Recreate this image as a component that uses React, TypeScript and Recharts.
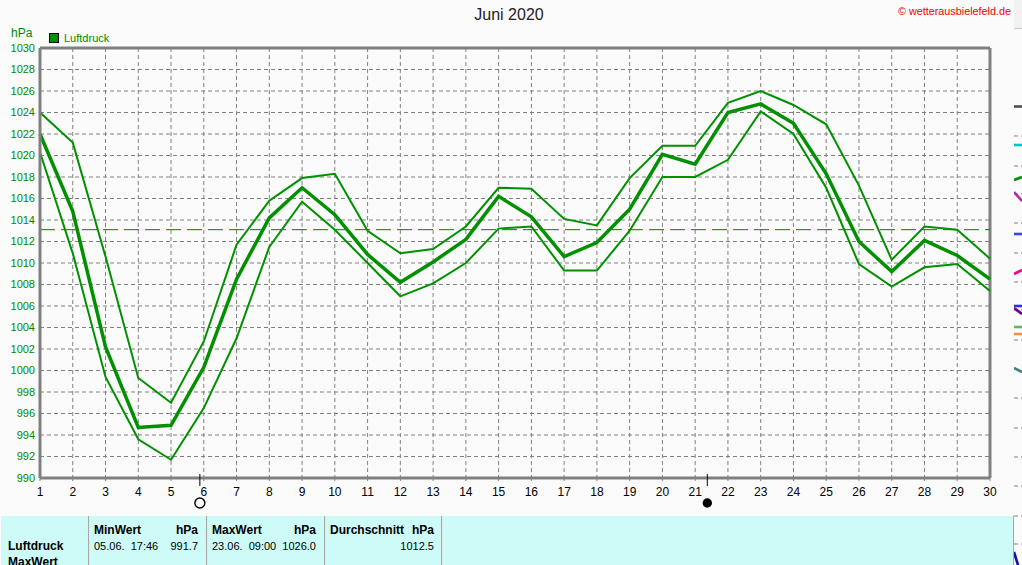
import React from "react";
import { ComposedChart, LineChart, Line, XAxis, YAxis, CartesianGrid, ReferenceLine, ReferenceDot, Legend } from "recharts";

const days = [1,2,3,4,5,6,7,8,9,10,11,12,13,14,15,16,17,18,19,20,21,22,23,24,25,26,27,28,29,30];
const maxValues = [1024,1021.2,1010.6,999.3,997,1002.7,1011.7,1015.8,1017.9,1018.3,1013,1010.9,1011.3,1013.4,1017,1016.9,1014.1,1013.5,1017.9,1020.9,1020.9,1024.9,1026,1024.7,1022.9,1017.2,1010.3,1013.4,1013.1,1010.4];
const meanValues = [1022,1014.8,1002.2,994.7,994.9,1000.3,1008.5,1014.2,1017,1014.5,1010.8,1008.2,1010.1,1012.2,1016.2,1014.3,1010.6,1011.9,1015,1020.1,1019.2,1024,1024.8,1023,1018.3,1012,1009.2,1012.1,1010.7,1008.5];
const minValues = [1020.3,1010.9,999.4,993.6,991.7,996.5,1003,1011.5,1015.7,1013.1,1010,1006.9,1008.1,1010,1013.2,1013.4,1009.3,1009.3,1013,1018,1018,1019.6,1024.1,1022,1017,1009.9,1007.8,1009.6,1009.9,1007.4];
const yTicks = [990,992,994,996,998,1000,1002,1004,1006,1008,1010,1012,1014,1016,1018,1020,1022,1024,1026,1028,1030];
const averageValue = 1013.1;
const fullMoonDay = 5.88;
const newMoonDay = 21.37;

const rows = days.map((d, i) => ({ day: d, max: maxValues[i], mean: meanValues[i], min: minValues[i] }));

// Neighbouring chart that the window crops at the right edge
const cropX = [0, 1];
const cropGrid = [136,166,194,223,253,282,310,340,398,428,457,486,516,544];
const cropSeries = [
  { color: "#505050", values: [106.5,106.5] },
  { color: "#00C8C8", values: [145,145] },
  { color: "#009000", values: [180,177] },
  { color: "#B030A0", values: [192,201] },
  { color: "#4040F0", values: [234,234] },
  { color: "#F00090", values: [274,270] },
  { color: "#3030E0", values: [306,306] },
  { color: "#700090", values: [308,314] },
  { color: "#60B860", values: [327,327] },
  { color: "#F09040", values: [334,334] },
  { color: "#408080", values: [368,372] },
  { color: "#1010B0", values: [552,578] },
];
const cropRows = cropX.map((x, i) => {
  const r: any = { x };
  cropSeries.forEach((s, k) => { r["s" + k] = s.values[i]; });
  return r;
});

const tableHeads = [
  { x: 88, label: "MinWert", unit: "hPa", when: "05.06.  17:46", value: "991.7" },
  { x: 206, label: "MaxWert", unit: "hPa", when: "23.06.  09:00", value: "1026.0" },
  { x: 324, label: "Durchschnitt", unit: "hPa", when: "", value: "1012.5" },
];
const rowNames = ["Luftdruck", "MaxWert"];

const FONT = '"Liberation Sans", Arial, sans-serif';
const GREEN = "#009000";
const TEXT_GREEN = "#008A00";
const GRAY = "#808080";

const abs = (left: number, top: number, extra: React.CSSProperties = {}): React.CSSProperties => ({
  position: "absolute", left, top, whiteSpace: "pre", lineHeight: "14px", ...extra,
});

const moon = (filled: boolean) => (props: any) => {
  const { cx, cy } = props;
  return (
    <g>
      <line x1={cx} x2={cx} y1={cy - 4} y2={cy + 8} stroke="#000" strokeWidth={1} />
      <circle cx={cx} cy={cy + 25} r={filled ? 4 : 5} fill={filled ? "#000" : "none"} stroke="#000" strokeWidth={1.4} />
    </g>
  );
};

const LegendBox = () => (
  <div style={{ position: "absolute", left: 49, top: 32, display: "flex", alignItems: "center", fontFamily: FONT, fontSize: 11, color: TEXT_GREEN }}>
    <span style={{ width: 8, height: 8, background: GREEN, border: "1px solid #000", marginRight: 5 }} />
    Luftdruck
  </div>
);

export default function App() {
  return (
    <div style={{ position: "absolute", left: 0, top: 0, width: 1022, height: 565, overflow: "hidden", background: "#FBFBFB", fontFamily: FONT }}>
      <div style={{ position: "absolute", left: 1014, top: 0, width: 8, height: 28, background: "#F2F2F2", borderBottom: "1px solid #C8C8C8" }} />
      <div style={abs(0, 8, { width: 1018, textAlign: "center", fontSize: 16, color: "#222" })}>Juni 2020</div>
      <div style={abs(898, 4, { fontSize: 10.8, color: "#F00000" })}>© wetterausbielefeld.de</div>
      <div style={abs(11, 26, { fontSize: 12, color: TEXT_GREEN })}>hPa</div>

      <div style={{ position: "absolute", left: 0, top: 0 }}>
        <ComposedChart width={1022} height={516} data={rows} margin={{ top: 48, right: 32, bottom: 0, left: 0 }} style={{ fontFamily: FONT }}>
          <CartesianGrid stroke={GRAY} strokeDasharray="4 3" strokeWidth={1} />
          <XAxis
            dataKey="day" type="number" domain={[1, 30]} ticks={days} interval={0} height={38}
            axisLine={{ stroke: GRAY, strokeWidth: 3 }} tickLine={{ stroke: GRAY, strokeWidth: 1 }} tickSize={3} tickMargin={6}
            tick={{ fill: "#000", fontSize: 12 }}
          />
          <YAxis
            type="number" domain={[990, 1030]} ticks={yTicks} interval={0} width={40}
            axisLine={{ stroke: GRAY, strokeWidth: 3 }} tickLine={false} tickSize={5} tickMargin={0}
            tick={{ fill: TEXT_GREEN, fontSize: 11 }}
          />
          <ReferenceLine y={1030} stroke={GRAY} strokeWidth={3} />
          <ReferenceLine x={30} stroke={GRAY} strokeWidth={3} />
          <ReferenceLine y={averageValue} stroke="#008000" strokeWidth={1} strokeDasharray="15 6" />
          <Line dataKey="min" stroke={GREEN} strokeWidth={2} dot={false} isAnimationActive={false} />
          <Line dataKey="max" stroke={GREEN} strokeWidth={2} dot={false} isAnimationActive={false} />
          <Line dataKey="mean" stroke={GREEN} strokeWidth={3.5} dot={false} isAnimationActive={false} />
          <ReferenceDot x={fullMoonDay} y={990} ifOverflow="visible" shape={moon(false)} />
          <ReferenceDot x={newMoonDay} y={990} ifOverflow="visible" shape={moon(true)} />
          <Legend content={() => <LegendBox />} wrapperStyle={{ position: "absolute", left: 0, top: 0, width: 0, height: 0 }} />
        </ComposedChart>
      </div>

      <div style={{ position: "absolute", left: 1014, top: 0 }}>
        <LineChart width={8} height={565} data={cropRows} margin={{ top: 0, right: 0, bottom: 0, left: 0 }}>
          <CartesianGrid stroke={GRAY} strokeDasharray="4 3" vertical={false} horizontalValues={cropGrid} />
          <XAxis dataKey="x" type="number" domain={[0, 1]} hide />
          <YAxis type="number" domain={[0, 565]} allowDataOverflow reversed hide />
          {cropSeries.map((s, k) => (
            <Line key={k} dataKey={"s" + k} stroke={s.color} strokeWidth={2.6} dot={false} isAnimationActive={false} />
          ))}
        </LineChart>
      </div>

      <div style={{ position: "absolute", left: 1, top: 516, width: 1012, height: 49, background: "#CCFBF8", borderRight: "1px solid #A8A8A8", fontSize: 12, color: "#000" }}>
        {rowNames.map((n, i) => (
          <div key={n} style={abs(7, 23 + i * 16, { fontWeight: 700 })}>{n}</div>
        ))}
        {tableHeads.map((h) => (
          <React.Fragment key={h.label}>
            <div style={{ position: "absolute", left: h.x - 1, top: 0, width: 1, height: 49, background: "#A8A8A8", borderRight: "1px solid #E8E8E8" }} />
            <div style={abs(h.x + 5, 7, { fontWeight: 700 })}>{h.label}</div>
            <div style={abs(h.x + 5, 7, { fontWeight: 700, width: 104, textAlign: "right" })}>{h.unit}</div>
            <div style={abs(h.x + 5, 23, { fontSize: 11 })}>{h.when}</div>
            <div style={abs(h.x + 5, 23, { fontSize: 11, width: 104, textAlign: "right" })}>{h.value}</div>
          </React.Fragment>
        ))}
        <div style={{ position: "absolute", left: 440, top: 0, width: 1, height: 49, background: "#A8A8A8", borderRight: "1px solid #E8E8E8" }} />
      </div>
    </div>
  );
}
